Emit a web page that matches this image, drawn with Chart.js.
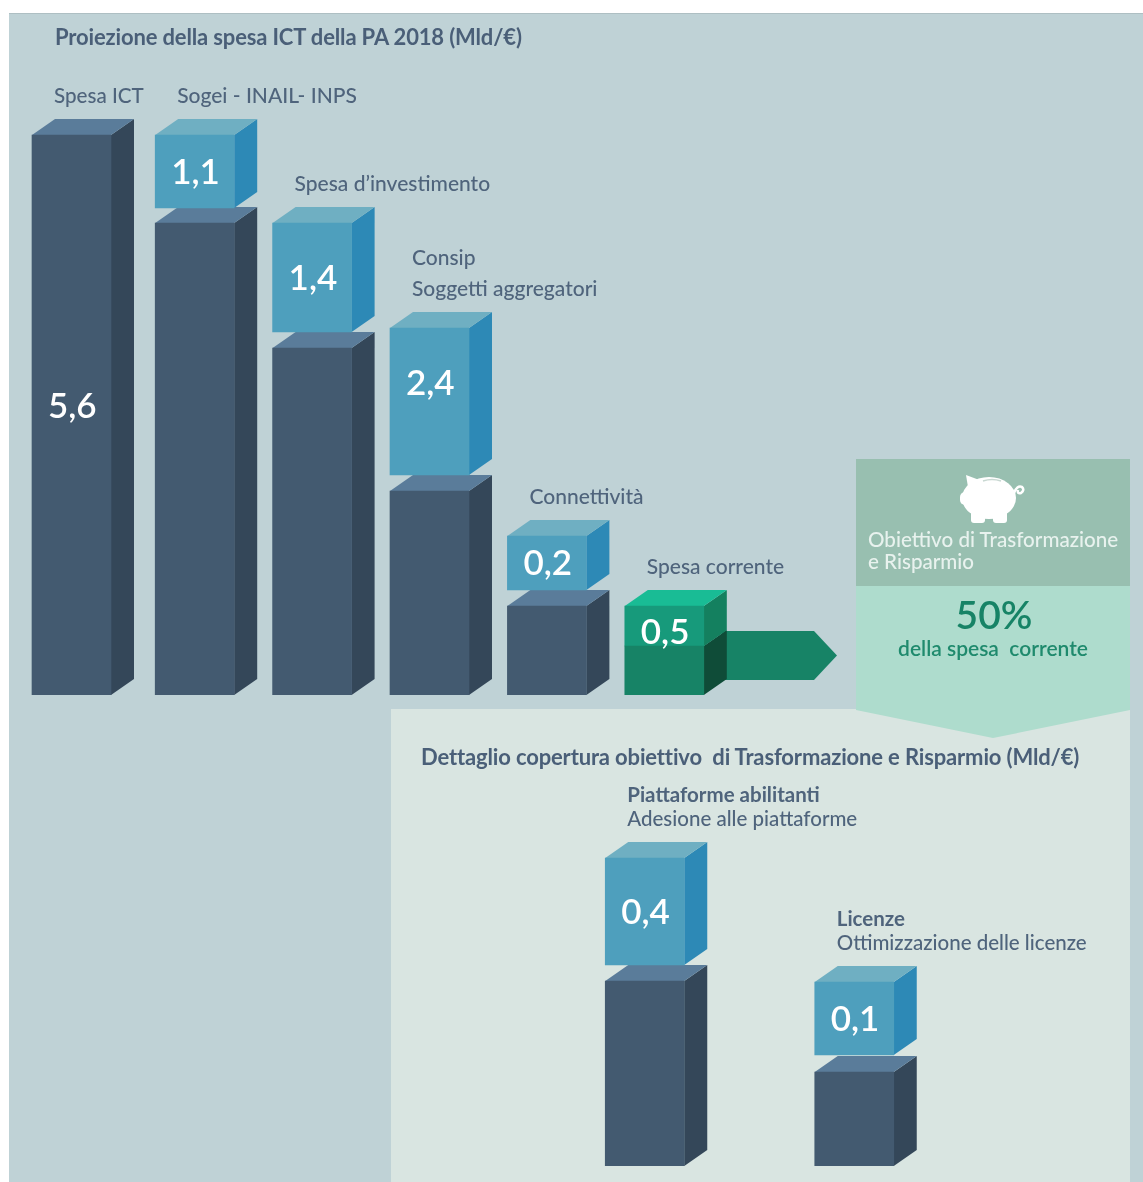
<!DOCTYPE html>
<html lang="it">
<head>
<meta charset="UTF-8">
<title>Proiezione della spesa ICT della PA 2018</title>
<script src="https://cdn.jsdelivr.net/npm/chart.js"></script>
<style>
    html, body { margin: 0; padding: 0; background: #fff; overflow: hidden; }
    #page { position: relative; width: 1143px; height: 1182px; overflow: hidden; font-family: Lato, sans-serif; filter: blur(0.45px); }
    #page > * { position: absolute; }
    #bg { left: 9px; top: 13px; width: 1134px; height: 1169px; background: #bfd2d6; border-top: 1px solid #aebfc3; box-sizing: border-box; }
    #lowerPanel { left: 391px; top: 709px; width: 739px; height: 473px; background: #d9e5e1; }
    #goalTop { left: 856px; top: 459px; width: 274px; height: 127px; background: #98bfb0; }
    #goalBottom { left: 856px; top: 586px; width: 274px; height: 152px; background: #aedccd;
        clip-path: polygon(0 0, 100% 0, 100% 81.6%, 50% 100%, 0 81.6%); }
    #arrow { left: 722px; top: 631px; width: 115px; height: 49px; background: #178366;
        clip-path: polygon(0 0, 80% 0, 100% 50%, 80% 100%, 0 100%); }
    .txt { white-space: pre; line-height: 1; }
    .head { color: #4a5f78; font-weight: 700; font-size: 22px; letter-spacing: -0.15px; }
    canvas { display: block; }
</style>
</head>
<body>
<div id="page">
    <div id="bg"></div>
    <div id="lowerPanel"></div>
    <div id="goalTop"></div>
    <div id="goalBottom"></div>
    <div id="arrow"></div>

    <svg style="left:958px;top:472px" width="68" height="52" viewBox="0 0 68 52">
        <ellipse cx="31" cy="26" rx="27" ry="21" fill="#fff"/>
        <path d="M8 3 L24 9 L11 21 Z" fill="#fff"/>
        <rect x="2" y="20" width="14" height="13" rx="5" fill="#fff"/>
        <rect x="13" y="36" width="14" height="15" rx="3" fill="#fff"/>
        <rect x="35" y="36" width="14" height="15" rx="3" fill="#fff"/>
        <path d="M56 21 q3 -8 8 -6 q3 3 -1 6 q-4 1 -3 -3" fill="none" stroke="#fff" stroke-width="2.5"/>
        <path d="M25 9 q9 -3 18 0" fill="none" stroke="#c9d8d2" stroke-width="1.5"/>
    </svg>

    <canvas id="chartTotal" width="183" height="695" style="left:-20px;top:0"></canvas>
    <canvas id="chartBreakdown" width="737" height="695" style="left:136px;top:0"></canvas>
    <canvas id="chartDetail" width="619" height="466" style="left:540px;top:700px"></canvas>

    <div class="txt head" style="left:55px;top:26px">Proiezione della spesa ICT della PA 2018 (Mld/€)</div>
    <div class="txt head" style="left:421px;top:746px">Dettaglio copertura obiettivo  di Trasformazione e Risparmio (Mld/€)</div>
    <div class="txt" style="left:868px;top:529px;font-size:20.6px;font-weight:500;color:#e8f2ee">Obiettivo di Trasformazione</div>
    <div class="txt" style="left:868px;top:551px;font-size:20.6px;font-weight:500;color:#e8f2ee">e Risparmio</div>
    <div class="txt" style="left:857px;width:274px;top:595px;text-align:center;font-size:39px;font-weight:600;color:#178366">50%</div>
    <div class="txt" style="left:856px;width:274px;top:637px;text-align:center;font-size:21px;font-weight:600;color:#1f8a6d">della spesa  corrente</div>
</div>

<script>
// height of the bars on the hidden axis
const totalCategories = ['Spesa ICT'];
const totalValues = [5.6];
const totalBars = [5.6];

const breakdownCategories = ['Sogei - INAIL- INPS', 'Spesa d’investimento', 'Consip|Soggetti aggregatori', 'Connettività', 'Spesa corrente'];
const breakdownValues = [1.1, 1.4, 2.4, 0.2, 0.5];
const breakdownBase = [4.72, 3.47, 2.04, 0.89, 0.49];
const breakdownBlockLow = [4.87, 3.63, 2.2, 1.05, 0.49];
const breakdownBlockHigh = [5.6, 4.72, 3.67, 1.59, 0.89];

const detailCategories = ['*Piattaforme abilitanti|Adesione alle piattaforme', '*Licenze|Ottimizzazione delle licenze'];
const detailValues = [0.4, 0.1];
const detailBase = [1.85, 0.94];
const detailBlockLow = [2.01, 1.11];
const detailBlockHigh = [3.08, 1.84];

// 3D faces for each front colour
const DARK = '#435a70', BLUE = '#4e9fbd', GREEN = '#179a7b', GREEN_LOW = '#178366';
const faces = {
    [DARK]: { side: '#344759', top: '#5a7c9a' },
    [BLUE]: { side: '#2d89b6', top: '#6fafc2' },
    [GREEN]: { side: '#14805f', top: '#19bc95' },
    [GREEN_LOW]: { side: '#0f4c38', top: '#178366' }
};
const DEPTH_X = 23, DEPTH_Y = 16;

function poly(ctx, color, pts) {
    ctx.fillStyle = color;
    ctx.beginPath();
    pts.forEach((p, i) => i ? ctx.lineTo(p[0], p[1]) : ctx.moveTo(p[0], p[1]));
    ctx.closePath();
    ctx.fill();
}

const box3d = {
    id: 'box3d',
    // side and top faces go under the fronts that Chart.js draws
    beforeDatasetsDraw(chart) {
        const ctx = chart.ctx;
        ctx.save();
        chart.data.datasets.forEach((ds, d) => {
            chart.getDatasetMeta(d).data.forEach((bar, i) => {
                const f = faces[ds.backgroundColor[i]];
                const l = bar.x - bar.width / 2, r = bar.x + bar.width / 2;
                poly(ctx, f.side, [[r, bar.y], [r + DEPTH_X, bar.y - DEPTH_Y], [r + DEPTH_X, bar.base - DEPTH_Y], [r, bar.base]]);
                poly(ctx, f.top, [[l, bar.y], [l + DEPTH_X, bar.y - DEPTH_Y], [r + DEPTH_X, bar.y - DEPTH_Y], [r, bar.y]]);
            });
        });
        ctx.restore();
    },
    afterDatasetsDraw(chart, args, opts) {
        const ctx = chart.ctx;
        const meta = chart.getDatasetMeta(chart.data.datasets.length - 1);
        ctx.save();
        ctx.textBaseline = 'middle';
        meta.data.forEach((bar, i) => {
            const left = bar.x - bar.width / 2;
            const top = bar.y - DEPTH_Y;

            // value inside the block
            ctx.font = '600 35px Lato, sans-serif';
            ctx.fillStyle = '#ffffff';
            const lift = (opts.lift && opts.lift[i]) || 0;
            ctx.fillText(opts.values[i].toFixed(1).replace('.', ','), left + 16, (bar.y + bar.base) / 2 - lift + 1);

            // caption above the block, last line sits 23px over the top face
            const lines = chart.data.labels[i].split('|');
            lines.forEach((line, n) => {
                const bold = line[0] === '*';
                ctx.font = (bold ? '700 ' : '500 ') + opts.captionSize + 'px Lato, sans-serif';
                ctx.fillStyle = '#4f647c';
                ctx.fillText(bold ? line.slice(1) : line, left + 22, top - 23 - (lines.length - 1 - n) * opts.lineGap);
            });
        });
        ctx.restore();
    }
};

function barChart(id, categories, datasets, yMax, rightPad, pluginOpts) {
    return new Chart(document.getElementById(id), {
        type: 'bar',
        data: { labels: categories, datasets },
        plugins: [box3d],
        options: {
            responsive: false,
            animation: false,
            layout: { padding: { right: rightPad } },
            datasets: { bar: { grouped: false, barThickness: 79, borderWidth: 0 } },
            scales: {
                x: { display: false, grid: { display: false } },
                y: { display: false, min: 0, max: yMax, grid: { display: false } }
            },
            plugins: { legend: { display: false }, tooltip: { enabled: false }, box3d: pluginOpts }
        }
    });
}

barChart('chartTotal', totalCategories, [
    { label: 'Spesa ICT', data: totalBars, backgroundColor: [DARK] }
], 6.95, 0, { values: totalValues, captionSize: 20.6, lineGap: 30, lift: { 0: 9 } });

barChart('chartBreakdown', breakdownCategories, [
    { label: 'Resto', data: breakdownBase, backgroundColor: [DARK, DARK, DARK, DARK, GREEN_LOW] },
    { label: 'Quota', data: breakdownBlockLow.map((low, i) => [low, breakdownBlockHigh[i]]), backgroundColor: [BLUE, BLUE, BLUE, BLUE, GREEN] }
], 6.95, 150, { values: breakdownValues, captionSize: 21, lineGap: 31, lift: { 2: 19, 4: -6 } });

barChart('chartDetail', detailCategories, [
    { label: 'Resto', data: detailBase, backgroundColor: [DARK, DARK] },
    { label: 'Quota', data: detailBlockLow.map((low, i) => [low, detailBlockHigh[i]]), backgroundColor: [BLUE, BLUE] }
], 4.66, 200, { values: detailValues, captionSize: 20.5, lineGap: 24 });
</script>
</body>
</html>
